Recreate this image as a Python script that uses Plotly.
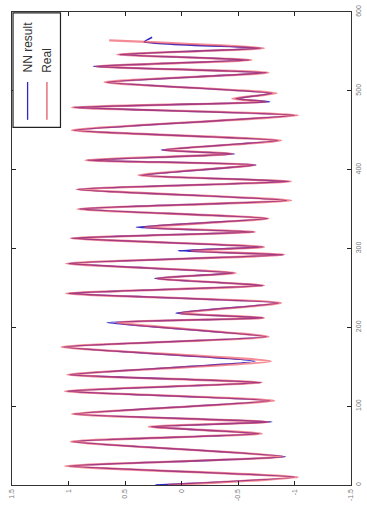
import plotly.graph_objects as go

# time steps (vertical axis in the rotated picture) and values (horizontal axis)
t_real = [0, 10, 24, 36, 55, 65, 74, 80, 90, 107, 119, 130, 140, 157, 175, 188, 206, 212, 218, 231,
          243, 253, 262, 269, 281, 292, 297, 302, 313, 321, 327, 338, 350, 361, 375, 385, 393, 406, 412, 420,
          425, 437, 450, 469, 479, 486, 490, 497, 511, 523, 531, 539, 546, 554, 564]
v_real = [0.12, -1.03, 1.03, -0.90, 0.98, -0.71, 0.29, -0.77, 0.97, -0.82, 1.03, -0.71, 1.01, -0.79, 1.06,
          -0.77, 0.58, -0.73, 0.02, -0.88, 1.02, -0.73, 0.22, -0.48, 1.02, -0.91, -0.08, -0.73, 0.98, -0.65,
          0.33, -0.77, 0.92, -0.97, 0.93, -0.97, 0.38, -0.65, 0.85, -0.45, 0.16, -0.88, 0.97, -1.03, 0.97,
          -0.75, -0.45, -0.84, 0.68, -0.77, 0.76, -0.62, 0.57, -0.73, 0.64]

t_nn = [0, 10, 24, 36, 55, 65, 74, 80, 90, 107, 119, 130, 140, 157, 175, 188, 206, 212, 218, 231,
        243, 253, 262, 269, 281, 292, 297, 302, 313, 321, 327, 338, 350, 361, 375, 385, 393, 406, 412, 420,
        425, 437, 450, 469, 479, 486, 490, 497, 511, 523, 531, 539, 546, 554, 562, 568]
v_nn = [0.23, -1.00, 1.00, -0.92, 0.96, -0.69, 0.27, -0.80, 0.95, -0.78, 1.01, -0.70, 0.99, -0.65, 1.04,
        -0.75, 0.66, -0.72, 0.05, -0.86, 1.00, -0.72, 0.24, -0.46, 1.00, -0.90, 0.03, -0.72, 0.97, -0.64,
        0.40, -0.76, 0.90, -0.93, 0.92, -0.95, 0.36, -0.66, 0.83, -0.47, 0.18, -0.85, 0.95, -1.00, 0.95,
        -0.78, -0.48, -0.80, 0.66, -0.75, 0.78, -0.60, 0.55, -0.70, 0.33, 0.26]

value_ticks = [-1.5, -1, -0.5, 0, 0.5, 1, 1.5]
value_labels = ["-1.5", "-1", "-0.5", "0", "0.5", "1", "1.5"]
time_ticks = [0, 100, 200, 300, 400, 500, 600]
time_labels = ["0", "100", "200", "300", "400", "500", "600"]

fig = go.Figure()
fig.add_trace(go.Scatter(x=v_nn, y=t_nn, mode="lines", name="NN result",
                         line=dict(color="rgb(45,40,200)", width=1.5, shape="spline", smoothing=0.5)))
fig.add_trace(go.Scatter(x=v_real, y=t_real, mode="lines", name="Real",
                         line=dict(color="rgba(238,70,85,0.62)", width=2.3, shape="spline", smoothing=0.5)))

tickfont = dict(family="Liberation Sans, Arial, sans-serif", size=7, color="#777")
fig.update_layout(
    width=367, height=506,
    margin=dict(l=12, r=5, t=8, b=19),
    paper_bgcolor="white", plot_bgcolor="white",
    showlegend=False,
    xaxis=dict(range=[1.5, -1.5], tickvals=value_ticks, ticktext=value_labels, tickangle=-90,
               showgrid=False, zeroline=False, showline=True, linecolor="#333", linewidth=1.4,
               mirror="ticks", ticks="inside", ticklen=4, tickwidth=1.2, tickcolor="#222",
               tickfont=tickfont),
    yaxis=dict(range=[0, 600], tickvals=time_ticks, ticktext=time_labels, side="right", tickangle=-90,
               showgrid=False, zeroline=False, showline=True, linecolor="#333", linewidth=1.4,
               mirror="ticks", ticks="inside", ticklen=4, tickwidth=1.2, tickcolor="#222",
               tickfont=tickfont),
)

# legend drawn rotated (box, sample lines, rotated text)
fig.add_shape(type="rect", xref="paper", yref="paper", x0=0.003, x1=0.143, y0=0.756, y1=0.998,
              line=dict(color="#222", width=1.2), fillcolor="white", layer="above")
fig.add_shape(type="line", xref="paper", yref="paper", x0=0.046, x1=0.046, y0=0.772, y1=0.852,
              line=dict(color="rgb(45,40,200)", width=1.3))
fig.add_shape(type="line", xref="paper", yref="paper", x0=0.103, x1=0.103, y0=0.772, y1=0.852,
              line=dict(color="rgb(225,90,100)", width=1.3))
legfont = dict(family="Liberation Sans, Arial, sans-serif", size=12, color="#333")
fig.add_annotation(xref="paper", yref="paper", x=0.046, y=0.868, text="NN result", textangle=-90,
                   showarrow=False, font=legfont, xanchor="center", yanchor="bottom")
fig.add_annotation(xref="paper", yref="paper", x=0.103, y=0.868, text="Real", textangle=-90,
                   showarrow=False, font=legfont, xanchor="center", yanchor="bottom")

fig.write_html("out.html")
